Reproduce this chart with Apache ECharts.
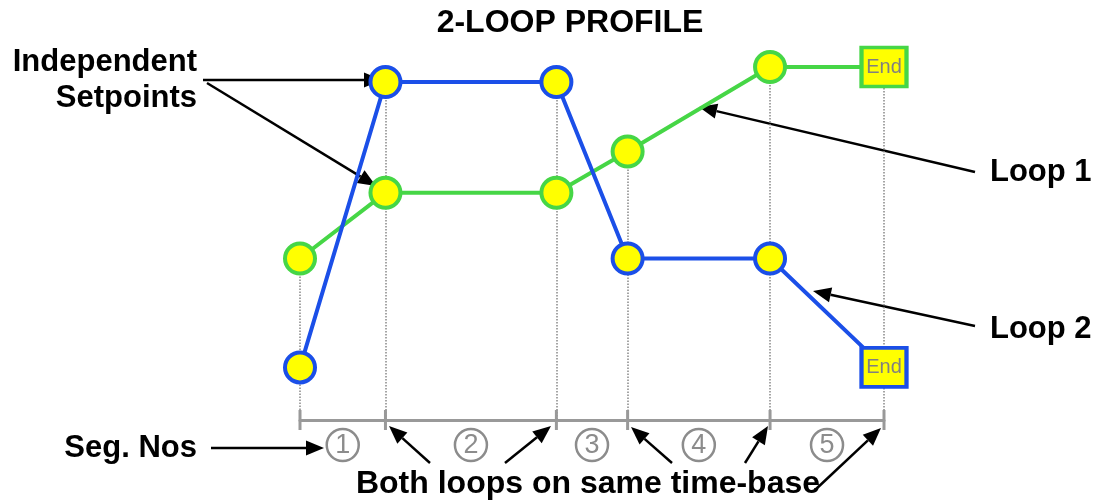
<!DOCTYPE html>
<html>
<head>
<meta charset="utf-8">
<script src="https://cdn.jsdelivr.net/npm/echarts@6/dist/echarts.min.js"></script>
<style>html,body{margin:0;background:#fff}#chart{width:1097px;height:502px}</style>
</head>
<body>
<div id="chart"></div>
<script>
// segment boundaries on the shared time-base
const times = [0, 1.5, 4.5, 5.75, 8.25, 10.25]
const loop1 = [39, 56.5, 56.5, 67.5, 90, 90]
const loop2 = [10, 86, 86, 39, 39, 10]
const segNos = ['1', '2', '3', '4', '5']
const yMin = -4, yMax = 90

const GREEN = '#46d646', BLUE = '#1b4fe8', YELLOW = '#ffff00'
const FONT = '"Liberation Sans", Arial, sans-serif'

const chart = echarts.init(document.getElementById('chart'))

function loopData(vals) {
  const last = vals.length - 1
  return vals.map((v, i) => i === last
    ? {value: [times[i], v], symbol: 'rect', symbolSize: [45, 39],
       label: {show: true, position: 'inside', formatter: 'End', color: '#808080', fontSize: 20, fontFamily: FONT}}
    : {value: [times[i], v]})
}

function arrow(x1, y1, x2, y2) {
  const a = Math.atan2(y2 - y1, x2 - x1), L = 18, W = 7.5
  const bx = x2 - L * Math.cos(a), by = y2 - L * Math.sin(a)
  return {type: 'group', z: 100, children: [
    {type: 'line', shape: {x1, y1, x2: bx, y2: by}, style: {stroke: '#000', lineWidth: 2.5}},
    {type: 'polygon', shape: {points: [[x2, y2], [bx + W * Math.sin(a), by - W * Math.cos(a)], [bx - W * Math.sin(a), by + W * Math.cos(a)]]}, style: {fill: '#000'}}
  ]}
}

function label(text, x, y, align, size) {
  return {type: 'text', x, y, z: 100, style: {text, fill: '#000', font: `bold ${size || 31}px ${FONT}`, textAlign: align, textVerticalAlign: 'middle'}}
}

// dotted guides from the higher point of each step down to the time-base
const guides = times.map((t, i) => [{coord: [t, Math.max(loop1[i], loop2[i])]}, {coord: [t, yMin]}])
const segMid = segNos.map((n, i) => [(times[i] + times[i + 1]) / 2, n])

chart.setOption({
  animation: false,
  grid: {left: 300, right: 213, top: 67, bottom: 82},
  xAxis: {
    type: 'value', min: 0, max: 10.25,
    axisLine: {onZero: false, lineStyle: {color: '#999', width: 3}},
    axisTick: {show: false}, axisLabel: {show: false}, splitLine: {show: false}
  },
  yAxis: {type: 'value', min: yMin, max: yMax, show: false},
  series: [
    {
      type: 'line', data: [], z: 1, silent: true,
      markLine: {symbol: 'none', z: 1, label: {show: false}, silent: true,
        lineStyle: {color: '#888', type: 'dotted', width: 1.5}, data: guides}
    },
    {
      type: 'custom', z: 1, silent: true,
      data: times.map(t => [t]),
      renderItem: (params, api) => {
        const p = api.coord([api.value(0), yMin])
        return {type: 'line', shape: {x1: p[0], y1: p[1] - 10, x2: p[0], y2: p[1] + 10}, style: {stroke: '#999', lineWidth: 3}}
      }
    },
    {
      type: 'custom', z: 1, silent: true,
      data: segMid,
      renderItem: (params, api) => {
        const p = api.coord([api.value(0), yMin])
        const n = segMid[params.dataIndex][1]
        return {type: 'group', children: [
          {type: 'circle', shape: {cx: p[0], cy: p[1] + 25, r: 16}, style: {fill: 'none', stroke: '#8c8c8c', lineWidth: 2.5}},
          {type: 'text', x: p[0], y: p[1] + 26, style: {text: n, fill: '#8c8c8c', font: `27px ${FONT}`, textAlign: 'center', textVerticalAlign: 'middle'}}
        ]}
      }
    },
    {
      name: 'Loop 1', type: 'line', z: 3, data: loopData(loop1),
      symbol: 'circle', symbolSize: 30, showAllSymbol: true,
      lineStyle: {color: GREEN, width: 4},
      itemStyle: {color: YELLOW, borderColor: GREEN, borderWidth: 4}
    },
    {
      name: 'Loop 2', type: 'line', z: 4, data: loopData(loop2),
      symbol: 'circle', symbolSize: 30, showAllSymbol: true,
      lineStyle: {color: BLUE, width: 4},
      itemStyle: {color: YELLOW, borderColor: BLUE, borderWidth: 4}
    }
  ],
  graphic: [
    label('2-LOOP PROFILE', 570, 23, 'center', 32),
    label('Independent', 197, 62, 'right'),
    label('Setpoints', 197, 98, 'right'),
    label('Loop 1', 990, 172, 'left'),
    label('Loop 2', 990, 329, 'left'),
    label('Seg. Nos', 197, 448, 'right'),
    label('Both loops on same time-base', 588, 484, 'center', 32),
    arrow(203, 80, 382, 80),
    arrow(207, 83, 376, 186),
    arrow(975, 172, 699, 107),
    arrow(975, 326, 813, 291),
    arrow(211, 448, 324, 448),
    arrow(430, 463, 389, 426),
    arrow(505, 463, 551, 426),
    arrow(672, 463, 631, 427),
    arrow(745, 463, 768, 426),
    arrow(815, 490, 881, 428)
  ]
})
</script>
</body>
</html>
